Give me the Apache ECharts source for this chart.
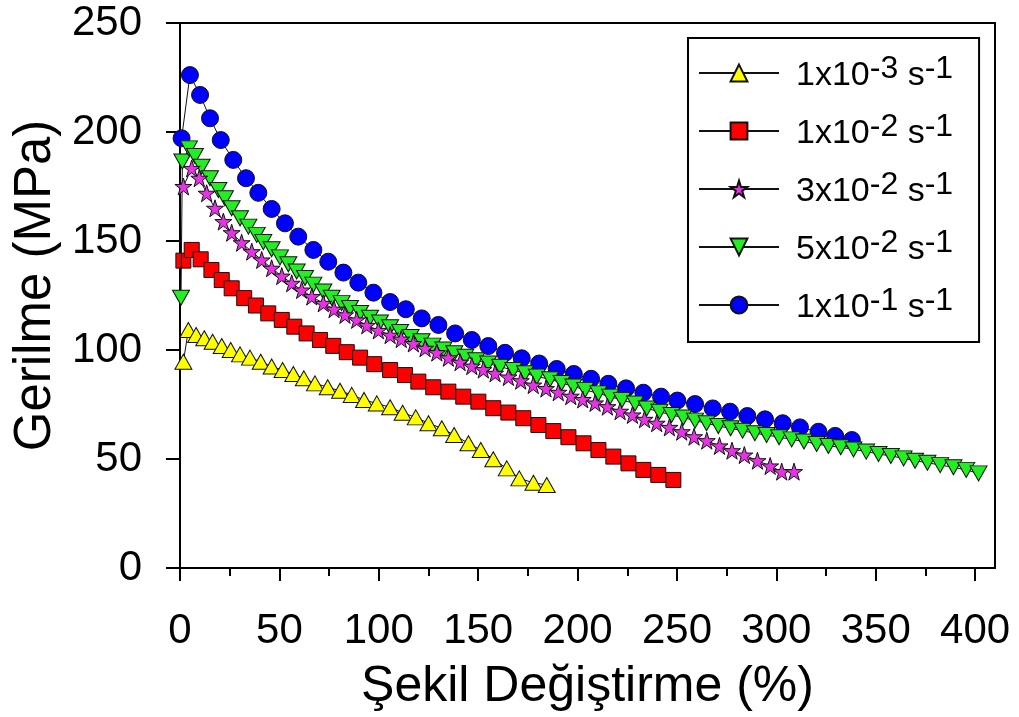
<!DOCTYPE html>
<html><head><meta charset="utf-8">
<script src="https://cdn.jsdelivr.net/npm/echarts@6/dist/echarts.min.js"></script>
<style>html,body{margin:0;padding:0;background:#fff}#c{width:1019px;height:717px}</style>
</head><body><div id="c"></div>
<script>
const xTicks = [0, 50, 100, 150, 200, 250, 300, 350, 400];
const xMinorTicks = [25, 75, 125, 175, 225, 275, 325, 375];
const yTicks = [0, 50, 100, 150, 200, 250];

const seriesNames = ['1x10-3 s-1', '1x10-2 s-1', '3x10-2 s-1', '5x10-2 s-1', '1x10-1 s-1'];
const legendRich = ['{b|1x10}{s|-3}{b| s}{s|-1}', '{b|1x10}{s|-2}{b| s}{s|-1}', '{b|3x10}{s|-2}{b| s}{s|-1}', '{b|5x10}{s|-2}{b| s}{s|-1}', '{b|1x10}{s|-1}{b| s}{s|-1}'];

const strainA = [1.7,4.2,8.1,12.2,16.4,21.0,25.5,30.2,35.2,40.6,46.1,51.6,57.0,62.3,67.9,74.3,80.5,86.4,92.6,99.0,105.7,112.0,118.6,125.0,131.7,137.9,145.1,151.3,157.6,164.4,170.7,177.8,184.5];
const stressA = [94.6,109.2,106.9,105.4,103.8,101.8,100.0,98.0,96.5,94.6,92.4,90.8,89.0,87.0,84.7,82.9,81.3,79.4,77.1,75.5,73.7,71.2,69.1,66.4,64.1,61.0,57.2,54.1,49.9,45.7,41.1,39.1,38.1];

const strainB = [1.7,5.9,10.4,15.8,21.0,26.0,32.3,38.2,44.4,51.2,57.5,63.7,70.4,77.1,83.9,90.6,97.7,105.7,113.2,119.9,127.4,135.0,142.5,150.1,157.6,165.2,172.7,180.3,187.8,195.4,203.0,210.5,218.0,225.6,233.1,240.6,248.2];
const stressB = [141.0,145.9,141.6,136.7,132.1,128.3,123.8,120.4,116.8,113.8,110.7,107.6,104.6,101.9,99.0,96.5,93.5,90.8,88.5,85.5,82.9,80.9,78.6,76.3,73.3,71.3,68.7,65.6,62.8,60.0,57.2,54.1,51.1,48.0,45.0,42.7,40.4];

const strainC = [1.7,5.9,9.7,13.4,17.6,21.8,26.0,31.0,36.1,41.1,46.1,51.2,56.2,61.2,66.3,72.1,77.5,83.0,88.9,94.0,99.8,105.7,111.3,117.4,123.3,129.2,135.0,140.9,146.8,152.6,158.5,165.2,171.4,177.7,184.1,190.3,196.6,202.6,208.8,215.0,221.4,227.6,233.7,239.8,246.2,252.4,258.6,265.0,271.4,277.7,283.9,290.5,296.9,302.7,308.9];
const stressC = [175.0,183.3,178.8,171.9,165.0,158.9,153.8,149.2,145.1,141.3,137.5,133.9,130.6,127.5,124.5,121.4,118.7,116.1,113.8,111.3,109.0,106.8,105.0,103.0,100.8,98.8,96.4,94.4,92.6,91.0,89.3,87.6,85.9,83.9,82.3,80.6,78.8,77.3,75.7,74.0,71.9,70.2,68.2,66.4,64.5,62.5,60.2,58.4,56.0,53.8,51.8,49.2,46.8,44.2,44.2];

const strainD = [0.5,1.2,4.5,7.5,10.9,15.1,19.3,22.6,26.0,30.2,34.4,38.6,41.9,46.1,50.3,54.5,58.7,62.9,67.1,72.1,76.3,81.3,85.5,90.6,95.6,100.6,105.7,110.7,116.0,121.5,127.0,132.5,138.0,143.5,149.0,155.0,161.0,167.7,173.6,179.5,186.2,192.0,197.9,203.8,210.5,216.4,222.3,228.9,234.8,241.2,247.3,253.2,259.1,264.9,270.8,277.0,283.0,289.2,295.1,301.4,307.7,313.9,320.3,326.2,332.4,338.8,345.2,351.4,357.6,364.0,369.8,376.0,382.4,389.1,395.5,401.7];
const stressD = [124.0,186.5,192.5,189.0,184.1,178.8,173.4,169.6,165.0,160.4,156.6,152.8,149.5,146.2,142.5,139.3,136.0,133.0,130.0,126.8,124.0,121.5,119.3,117.0,114.8,112.6,110.4,108.3,106.0,104.0,102.0,100.2,98.5,96.9,95.3,93.8,92.3,90.8,89.3,87.8,86.6,84.9,83.3,81.7,80.1,78.6,77.0,75.5,73.2,71.7,70.2,69.0,67.6,66.4,65.1,64.1,63.0,61.8,61.0,60.0,59.0,58.0,56.9,56.0,55.4,54.4,53.4,52.3,51.4,50.3,49.2,48.3,47.2,46.2,45.0,43.4];

const strainE = [0.8,5.0,10.1,15.1,20.5,26.8,33.2,39.4,46.1,52.8,59.5,67.1,74.6,82.2,89.7,97.3,105.7,113.6,121.6,130.0,138.4,146.8,155.1,163.5,171.9,180.7,189.5,198.1,206.8,215.5,224.4,233.1,242.0,250.2,259.1,268.0,276.7,285.4,294.3,303.2,311.9,321.2,329.6,338.0];
const stressE = [197.1,226.1,217.0,206.3,196.3,187.2,178.8,172.1,164.7,158.1,152.0,145.9,140.5,135.5,130.9,126.3,122.0,118.7,114.5,111.5,107.6,104.6,101.8,98.7,96.2,93.8,91.3,89.0,86.8,84.5,82.4,80.4,78.6,76.8,75.2,73.2,71.7,69.7,68.2,66.4,64.5,62.5,60.6,58.7];

const zip = (a, b) => a.map((v, i) => [v, b[i]]);
const STAR = 'path://M50,0 L61.2,34.5 L97.6,34.5 L68.2,55.9 L79.4,90.5 L50,69.1 L20.6,90.5 L31.8,55.9 L2.4,34.5 L38.8,34.5 Z';
const FONT = '"Liberation Sans", Arial, sans-serif';

function mk(name, data, color, symbol, size, rot, z) {
  return {
    name, type: 'line', data, z,
    symbol, symbolSize: size, symbolRotate: rot, showAllSymbol: true,
    lineStyle: { color: '#111', width: 1 },
    itemStyle: { color, borderColor: '#111', borderWidth: 1 },
    emphasis: { disabled: true }, animation: false
  };
}

const chart = echarts.init(document.getElementById('c'), null, { renderer: 'canvas' });
chart.setOption({
  animation: false,
  backgroundColor: '#fff',
  textStyle: { fontFamily: FONT, color: '#000' },
  grid: { left: 180, top: 23, right: 24, bottom: 149, show: true, borderColor: '#000', borderWidth: 2, backgroundColor: 'transparent' },
  legend: {
    orient: 'vertical', left: 688, top: 38,
    data: seriesNames,
    itemWidth: 80, itemHeight: 21, itemGap: 18,
    padding: [15, 26, 17, 10],
    borderColor: '#000', borderWidth: 2,
    formatter: (n) => legendRich[seriesNames.indexOf(n)],
    textStyle: {
      fontFamily: FONT, fontSize: 34, lineHeight: 40, color: '#000', padding: [0, 0, 0, 12],
      rich: {
        b: { fontFamily: FONT, fontSize: 34, lineHeight: 40, color: '#000', verticalAlign: 'bottom' },
        s: { fontFamily: FONT, fontSize: 32, lineHeight: 40, color: '#000', verticalAlign: 'top' }
      }
    }
  },
  xAxis: [{
    type: 'value', min: 0, max: 410,
    name: 'Şekil Değiştirme (%)', nameLocation: 'middle', nameGap: 94,
    nameTextStyle: { fontFamily: FONT, fontSize: 50, color: '#000' },
    axisLine: { show: true, onZero: false, lineStyle: { color: '#000', width: 2 } },
    axisTick: { show: true, length: 13, customValues: xTicks, lineStyle: { color: '#000', width: 2 } },
    axisLabel: { customValues: xTicks, margin: 42, fontFamily: FONT, fontSize: 42, color: '#000' },
    splitLine: { show: false }
  }, {
    type: 'value', min: 0, max: 410, position: 'bottom',
    axisLine: { show: false },
    axisTick: { show: true, length: 8, customValues: xMinorTicks, lineStyle: { color: '#000', width: 2 } },
    axisLabel: { show: false }, splitLine: { show: false }
  }],
  yAxis: {
    type: 'value', min: 0, max: 250, interval: 50,
    name: 'Gerilme (MPa)', nameLocation: 'middle', nameGap: 118,
    nameTextStyle: { fontFamily: FONT, fontSize: 51, color: '#000', padding: [0, 0, 0, 20] },
    axisLine: { show: true, lineStyle: { color: '#000', width: 2 } },
    axisTick: { show: true, length: 14, lineStyle: { color: '#000', width: 2 } },
    axisLabel: { margin: 38, fontFamily: FONT, fontSize: 42, color: '#000' },
    splitLine: { show: false }
  },
  series: [
    mk(seriesNames[0], zip(strainA, stressA), '#FFFF00', 'triangle', [17, 15], 0, 2),
    mk(seriesNames[1], zip(strainB, stressB), '#FF0000', 'rect', 15, 0, 2),
    mk(seriesNames[2], zip(strainC, stressC), '#E633E6', STAR, 17, 0, 5),
    mk(seriesNames[3], zip(strainD, stressD), '#22EE22', 'triangle', [17, 15], 180, 4),
    mk(seriesNames[4], zip(strainE, stressE), '#0000FF', 'circle', 17, 0, 3)
  ]
});
</script></body></html>
